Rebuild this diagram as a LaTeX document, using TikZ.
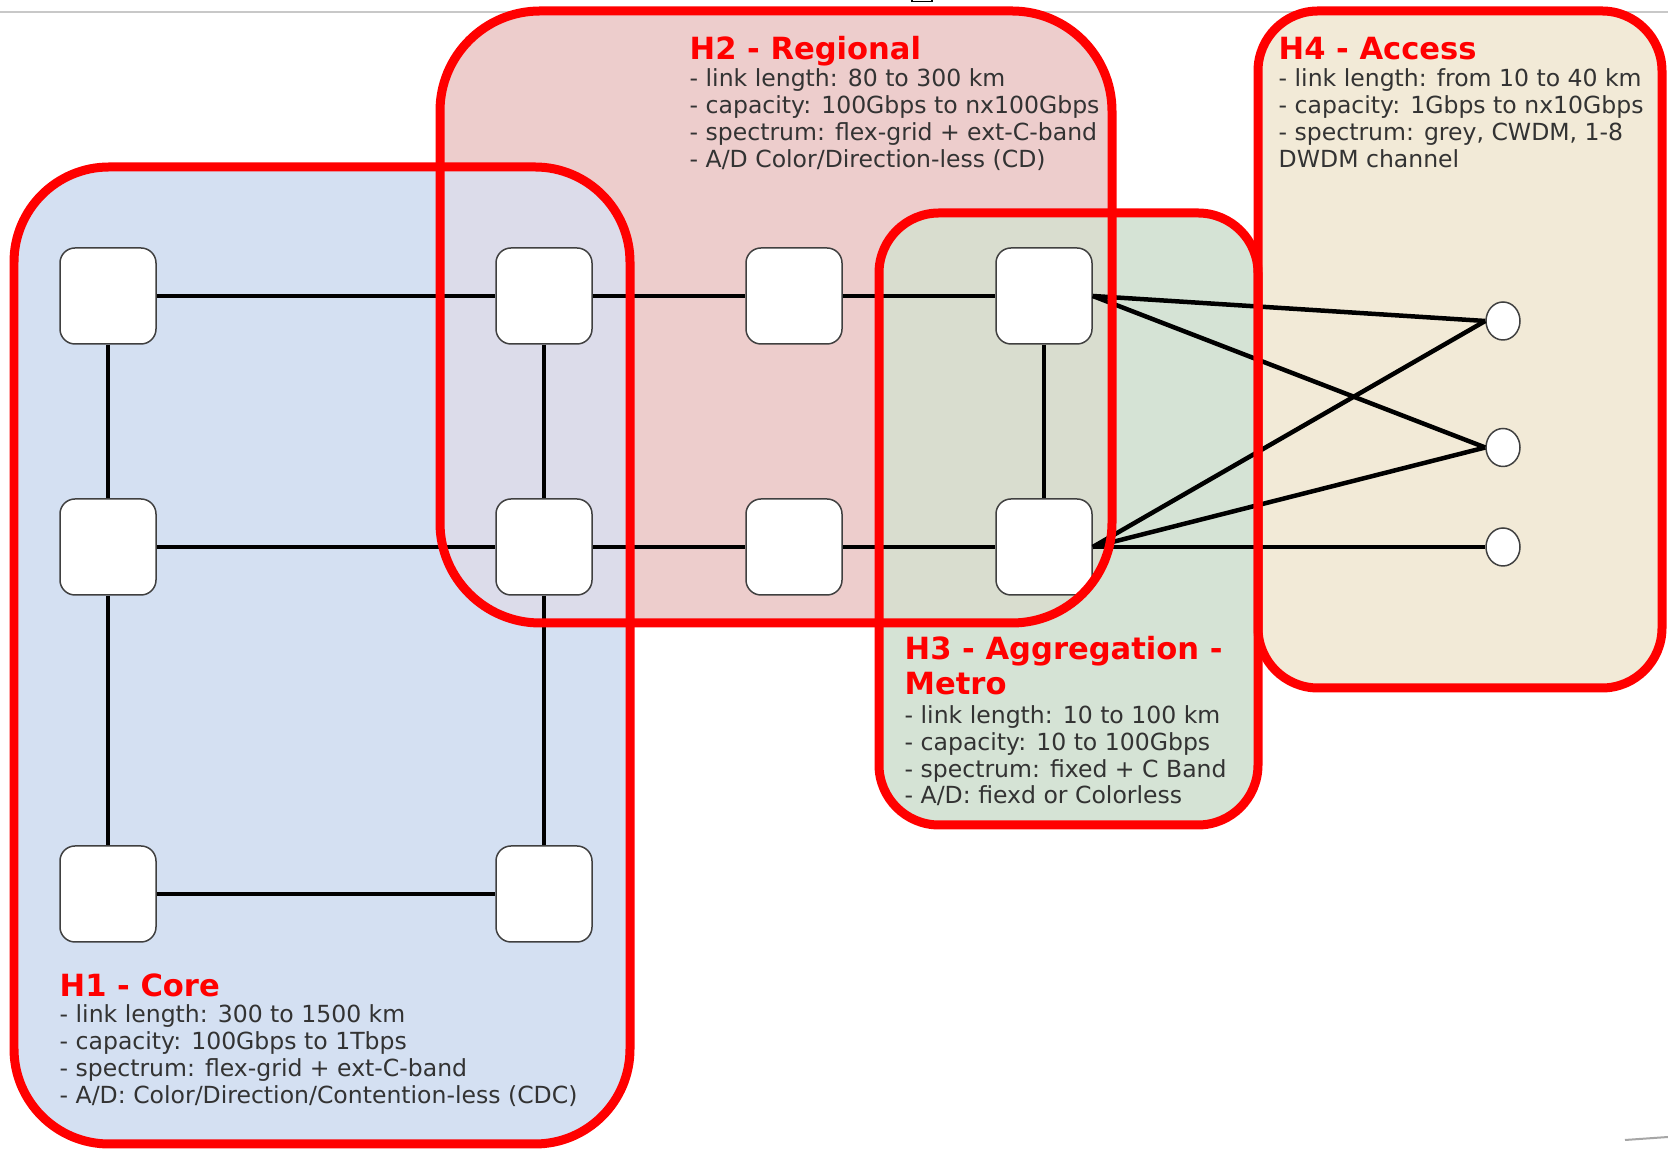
\documentclass[tikz,border=0pt]{standalone}
\usepackage{fontspec}
\setmainfont{DejaVu Sans}
\usepackage{tikz}
\usetikzlibrary{shapes.geometric}
\definecolor{zonered}{HTML}{FF0000}
\definecolor{corefill}{HTML}{D4E0F2}
\definecolor{regfill}{HTML}{EDCDCC}
\definecolor{metrofill}{HTML}{D5E3D5}
\definecolor{accfill}{HTML}{F2EAD7}
\definecolor{coreregfill}{HTML}{DCDCEA}
\definecolor{regmetrofill}{HTML}{D9DDCF}
\definecolor{bodytext}{HTML}{333333}
\definecolor{framegrey}{HTML}{C8C8C8}
\tikzset{
    roadm/.style={
        draw=black!75,
        fill=white,
        line width=0.015cm,
        rounded corners=0.15cm,
        minimum width=0.96cm,
        minimum height=0.96cm,
        inner sep=0pt
    },
    client/.style={
        ellipse,
        draw=black!75,
        fill=white,
        line width=0.015cm,
        minimum width=0.34cm,
        minimum height=0.38cm,
        inner sep=0pt
    },
    link/.style={black, line width=0.045cm},
    zone/.style={draw=zonered, line width=0.09cm},
    zone title/.style={
        anchor=base west,
        inner sep=0pt,
        text=zonered,
        font=\fontsize{8.7}{10}\selectfont\bfseries
    },
    zone text/.style={
        anchor=base west,
        inner sep=0pt,
        text=bodytext,
        font=\fontsize{6.7}{8}\selectfont
    },
}

\begin{document}
\begin{tikzpicture}
        \useasboundingbox (0,0) rectangle (16.68,11.52);
        \fill[white] (0,0) rectangle (16.68,11.52);
        \def\corezone{[rounded corners=0.95cm] (0.14,0.08) rectangle (6.30,9.85)}
        \def\regzone{[rounded corners=1cm] (4.40,5.29) rectangle (11.12,11.41)}
        \def\metrozone{[rounded corners=0.6cm] (8.79,3.27) rectangle (12.58,9.39)}
        \def\acczone{[rounded corners=0.6cm] (12.58,4.64) rectangle (16.62,11.41)}

        % screen leftovers
        \draw[framegrey, line width=0.015cm] (0,11.40) -- (16.68,11.40);
        \draw[black, line width=0.012cm] (9.12,11.52) -- (9.12,11.505) -- (9.32,11.505) -- (9.32,11.52);
        \draw[black!35, line width=0.02cm] (16.25,0.12) -- (16.68,0.15);

        % hierarchy areas
        \fill[corefill] \corezone;
        \fill[regfill] \regzone;
        \fill[metrofill] \metrozone;
        \fill[accfill] \acczone;
        \begin{scope}
            \clip \corezone;
            \fill[coreregfill] \regzone;
        \end{scope}
        \begin{scope}
            \clip \regzone;
            \fill[regmetrofill] \metrozone;
        \end{scope}

        % ROADM nodes
        \node[roadm] (n11) at (1.08,8.56) {};
        \node[roadm] (n12) at (5.44,8.56) {};
        \node[roadm] (n13) at (7.94,8.56) {};
        \node[roadm] (n14) at (10.44,8.56) {};
        \node[roadm] (n21) at (1.08,6.05) {};
        \node[roadm] (n22) at (5.44,6.05) {};
        \node[roadm] (n23) at (7.94,6.05) {};
        \node[roadm] (n24) at (10.44,6.05) {};
        \node[roadm] (n31) at (1.08,2.58) {};
        \node[roadm] (n32) at (5.44,2.58) {};

        % access clients
        \node[client] (c1) at (15.03,8.31) {};
        \node[client] (c2) at (15.03,7.045) {};
        \node[client] (c3) at (15.03,6.05) {};

        % links
        \draw[link] (n11) -- (n12) -- (n13) -- (n14);
        \draw[link] (n21) -- (n22) -- (n23) -- (n24);
        \draw[link] (n31) -- (n32);
        \draw[link] (n11) -- (n21) -- (n31);
        \draw[link] (n12) -- (n22) -- (n32);
        \draw[link] (n14) -- (n24);
        \draw[link] (n14.east) -- (c1.west);
        \draw[link] (n14.east) -- (c2.west);
        \draw[link] (n24.east) -- (c1.west);
        \draw[link] (n24.east) -- (c2.west);
        \draw[link] (n24.east) -- (c3.west);

        % red outlines
        \draw[zone] \corezone;
        \draw[zone] \regzone;
        \draw[zone] \metrozone;
        \draw[zone] \acczone;

        % H2
        \node[zone title] (h2title) at (6.89,10.92) {H2 - Regional};
        \node[zone text] (h2l1) at (6.89,10.65) {- link length: 80 to 300 km};
        \node[zone text] (h2l2) at (6.89,10.383) {- capacity: 100Gbps to nx100Gbps};
        \node[zone text] (h2l3) at (6.89,10.116) {- spectrum: flex-grid + ext-C-band};
        \node[zone text] (h2l4) at (6.89,9.849) {- A/D Color/Direction-less (CD)};

        % H4
        \node[zone title] (h4title) at (12.78,10.92) {H4 - Access};
        \node[zone text] (h4l1) at (12.78,10.65) {- link length: from 10 to 40 km};
        \node[zone text] (h4l2) at (12.78,10.383) {- capacity: 1Gbps to nx10Gbps};
        \node[zone text] (h4l3) at (12.78,10.116) {- spectrum: grey, CWDM, 1-8};
        \node[zone text] (h4l4) at (12.78,9.849) {DWDM channel};

        % H3
        \node[zone title] (h3title) at (9.04,4.92) {H3 - Aggregation -};
        \node[zone title] (h3title2) at (9.04,4.57) {Metro};
        \node[zone text] (h3l1) at (9.04,4.28) {- link length: 10 to 100 km};
        \node[zone text] (h3l2) at (9.04,4.013) {- capacity: 10 to 100Gbps};
        \node[zone text] (h3l3) at (9.04,3.746) {- spectrum: fixed + C Band};
        \node[zone text] (h3l4) at (9.04,3.48) {- A/D: fiexd or Colorless};

        % H1
        \node[zone title] (h1title) at (0.59,1.55) {H1 - Core};
        \node[zone text] (h1l1) at (0.59,1.29) {- link length: 300 to 1500 km};
        \node[zone text] (h1l2) at (0.59,1.02) {- capacity: 100Gbps to 1Tbps};
        \node[zone text] (h1l3) at (0.59,0.75) {- spectrum: flex-grid + ext-C-band};
        \node[zone text] (h1l4) at (0.59,0.48) {- A/D: Color/Direction/Contention-less (CDC)};
\end{tikzpicture}
\end{document}
